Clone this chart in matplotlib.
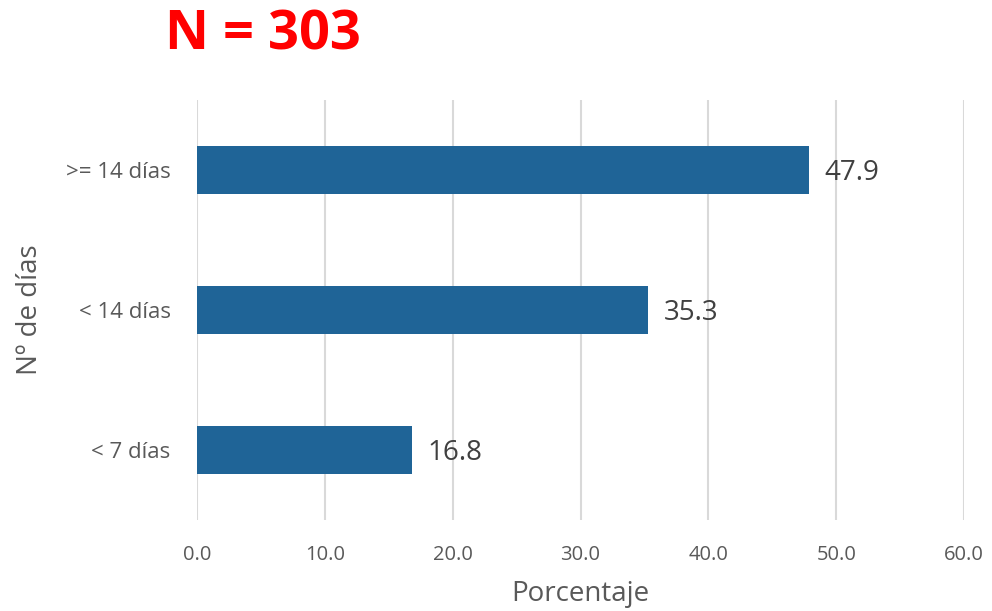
import matplotlib.pyplot as plt
import numpy as np

plt.rcParams['font.family'] = ['Open Sans', 'DejaVu Sans']

# datos
categorias = ['< 7 días', '< 14 días', '>= 14 días']
porcentajes = [16.8, 35.3, 47.9]
ticks_x = [0, 10, 20, 30, 40, 50, 60]

gris = '#595959'
azul = '#1f6497'

fig = plt.figure(figsize=(9.92, 6.11), dpi=100)
ax = fig.add_axes([0.1986, 0.149, 0.9718 - 0.1986, 0.8363 - 0.149])

pos = np.arange(len(categorias))
ax.barh(pos, porcentajes, height=0.34, color=azul, zorder=3)

# etiquetas de valor
for p, v in zip(pos, porcentajes):
    ax.annotate(f'{v:.1f}', xy=(v, p), xytext=(11, -2.5), textcoords='offset points',
                va='center', ha='left', fontsize=20, color='#404040')

ax.set_xlim(0, 60)
ax.set_ylim(-0.5, 2.5)
ax.set_xticks(ticks_x)
ax.set_xticklabels([f'{t:.1f}' for t in ticks_x])
ax.set_yticks(pos)
ax.set_yticklabels(categorias)
ax.tick_params(axis='both', length=0, labelcolor=gris)
ax.tick_params(axis='x', pad=18, labelsize=14.5)
ax.tick_params(axis='y', pad=19, labelsize=16)

ax.grid(axis='x', color='#d9d9d9', linewidth=1.5, zorder=0)
for s in ax.spines.values():
    s.set_visible(False)

ax.set_xlabel('Porcentaje', fontsize=20, color=gris, labelpad=11)
ax.set_ylabel('Nº de días', fontsize=20, color=gris, labelpad=16)

fig.text(165 / 992, 1 - 36 / 611, 'N = 303', fontsize=39, fontweight='bold',
         color='#ff0000', ha='left', va='center')

plt.savefig('out.png', dpi=100)
